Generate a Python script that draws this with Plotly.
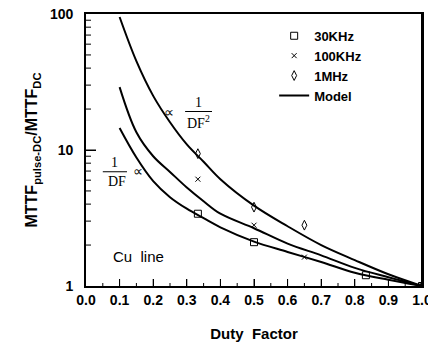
import plotly.graph_objects as go

# ---- data ----
df_model = [0.1, 0.15, 0.2, 0.25, 0.3, 0.35, 0.4, 0.5, 0.6, 0.7, 0.8, 0.9, 1.0]
model_top = [95, 45, 25, 16, 11, 8.2, 6.1, 3.9, 2.75, 2.0, 1.55, 1.22, 1.0]
model_mid = [29, 13.5, 9.0, 6.9, 5.3, 4.2, 3.4, 2.66, 2.05, 1.68, 1.36, 1.16, 1.0]
model_low = [14.5, 8.8, 5.9, 4.5, 3.7, 3.15, 2.7, 2.12, 1.78, 1.5, 1.25, 1.11, 1.0]

df_30k = [0.333, 0.5, 0.833, 1.0]
val_30k = [3.4, 2.1, 1.2, 1.0]
df_100k = [0.333, 0.5, 0.65, 1.0]
val_100k = [6.1, 2.8, 1.63, 1.0]
df_1m = [0.333, 0.5, 0.65, 1.0]
val_1m = [9.4, 3.8, 2.8, 1.0]

x_major = [0.1, 0.2, 0.3, 0.4, 0.5, 0.6, 0.7, 0.8, 0.9]
x_minor = [0.05, 0.15, 0.25, 0.35, 0.45, 0.55, 0.65, 0.75, 0.85, 0.95]
y_major = [10]
y_minor = [2, 3, 4, 5, 6, 7, 8, 9, 20, 30, 40, 50, 60, 70, 80, 90]

BOLD = "Liberation Sans"
NARROW = "Liberation Sans Narrow, Liberation Sans"
SERIF = "Liberation Serif"

fig = go.Figure()
fig.add_trace(go.Scatter(x=df_30k, y=val_30k, mode="markers", name="30KHz",
                         marker=dict(symbol="square-open", size=7, color="black",
                                     line=dict(width=1, color="black"))))
fig.add_trace(go.Scatter(x=df_100k, y=val_100k, mode="markers", name="100KHz",
                         marker=dict(symbol="x-thin-open", size=5, color="black",
                                     line=dict(width=1, color="black"))))
fig.add_trace(go.Scatter(x=df_1m, y=val_1m, mode="markers", name="1MHz",
                         marker=dict(symbol="diamond-tall-open", size=7, color="black",
                                     line=dict(width=1, color="black"))))
for i, ys in enumerate([model_top, model_mid, model_low]):
    fig.add_trace(go.Scatter(x=df_model, y=ys, mode="lines", name="Model",
                             showlegend=(i == 0), line=dict(color="black", width=2, shape="spline")))

ann_font = dict(family=SERIF, size=14, color="black")
annotations = [
    dict(x=0.247, y=1.279, text="∝", showarrow=False, font=ann_font),
    dict(x=0.335, y=1.35, text="1", showarrow=False, font=ann_font),
    dict(x=0.335, y=1.205, text="DF<sup>2</sup>", showarrow=False, font=ann_font),
    dict(x=0.086, y=0.905, text="1", showarrow=False, font=ann_font),
    dict(x=0.092, y=0.765, text="DF", showarrow=False, font=ann_font),
    dict(x=0.155, y=0.84, text="∝", showarrow=False, font=ann_font),
    dict(x=0.155, y=0.22, text="Cu\u00a0 line", showarrow=False,
         font=dict(family="Liberation Sans", size=15, color="black")),
]
tick_line = dict(color="black", width=1)
shapes = [
    dict(type="line", x0=0.295, x1=0.375, y0=10 ** 1.283, y1=10 ** 1.283, xref="x", yref="y",
         line=dict(color="black", width=1)),
    dict(type="line", x0=0.05, x1=0.122, y0=10 ** 0.84, y1=10 ** 0.84, xref="x", yref="y",
         line=dict(color="black", width=1)),
    # right side of the frame
    dict(type="line", x0=1.0, x1=1.0, y0=0, y1=1, xref="x", yref="paper",
         line=dict(color="black", width=2), layer="above"),
]
# inside tick marks placed through the axes
for t in x_major:
    shapes.append(dict(type="line", xref="x", yref="paper", x0=t, x1=t,
                       ysizemode="pixel", yanchor=0, y0=0, y1=7, line=tick_line, layer="above"))
for t in x_minor:
    shapes.append(dict(type="line", xref="x", yref="paper", x0=t, x1=t,
                       ysizemode="pixel", yanchor=0, y0=0, y1=3, line=tick_line, layer="above"))
for t in y_major:
    shapes.append(dict(type="line", xref="paper", yref="y", y0=t, y1=t,
                       xsizemode="pixel", xanchor=0, x0=0, x1=10, line=tick_line, layer="above"))
for t in y_minor:
    shapes.append(dict(type="line", xref="paper", yref="y", y0=t, y1=t,
                       xsizemode="pixel", xanchor=0, x0=0, x1=5, line=tick_line, layer="above"))

fig.update_layout(
    width=428, height=346,
    margin=dict(l=86, r=6, t=14, b=60),
    paper_bgcolor="white", plot_bgcolor="white",
    showlegend=True,
    legend=dict(x=0.56, y=0.975, xanchor="left", yanchor="top",
                bgcolor="rgba(0,0,0,0)",
                font=dict(family=NARROW, size=13, color="black", weight="bold"),
                tracegroupgap=0),
    annotations=annotations,
    shapes=shapes,
)
fig.update_xaxes(
    range=[0, 1.0], tickmode="linear", tick0=0, dtick=0.1, tickformat=".1f",
    ticklabeloverflow="allow", automargin=False,
    ticks="inside", ticklen=7, tickwidth=1, tickcolor="black",
    showline=True, linewidth=2, linecolor="black", mirror=True,
    showgrid=False, zeroline=False,
    tickfont=dict(family=BOLD, size=14, color="black", weight="bold"),
    title=dict(text="Duty\u00a0 Factor", standoff=22,
               font=dict(family=BOLD, size=15, color="black", weight="bold")),
)
fig.update_yaxes(
    type="log", range=[0, 2], tickmode="linear", tick0=0, dtick=1,
    ticksuffix="\u00a0\u00a0",
    ticklabeloverflow="allow", automargin=False,
    ticks="inside", ticklen=10, tickwidth=1, tickcolor="black",
    showline=True, linewidth=2, linecolor="black", mirror=True,
    showgrid=False, zeroline=False,
    tickfont=dict(family=BOLD, size=14, color="black", weight="bold"),
    title=dict(text="MTTF<sub>pulse-DC</sub>/MTTF<sub>DC</sub>", standoff=8,
               font=dict(family=BOLD, size=16, color="black", weight="bold")),
)

fig.write_html("out.html", config={"displayModeBar": False},
               post_script="document.body.style.margin='0';document.body.style.overflow='hidden';"
                           "document.documentElement.style.overflow='hidden';")
